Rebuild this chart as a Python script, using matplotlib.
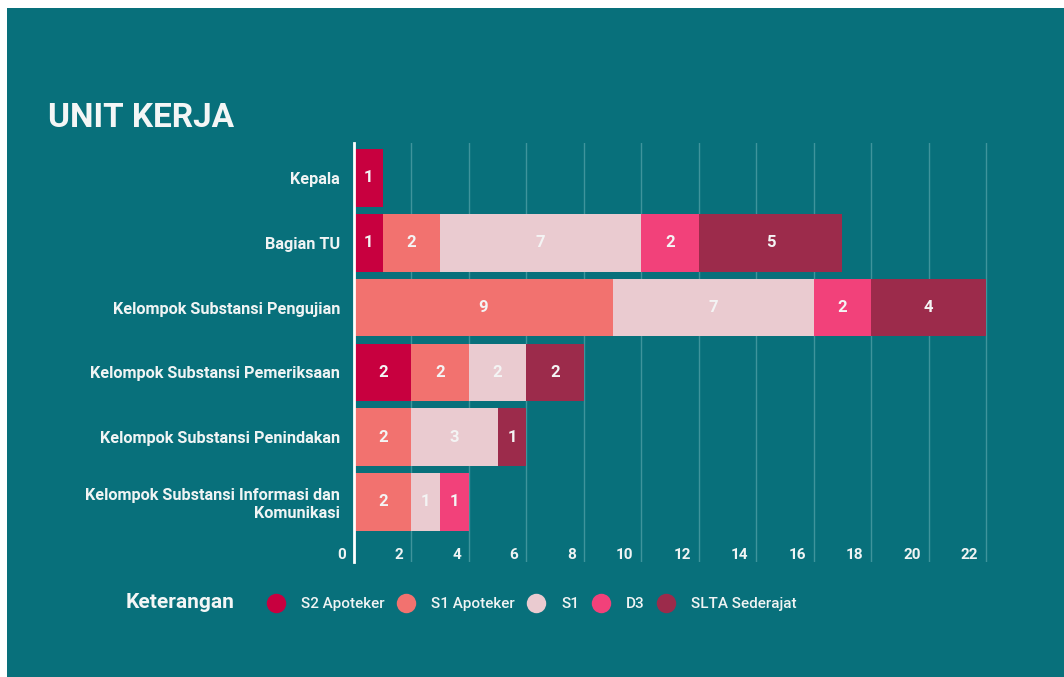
import matplotlib
matplotlib.use("Agg")
import matplotlib.pyplot as plt
import matplotlib.transforms as mtransforms
from matplotlib.patches import Rectangle
from matplotlib.lines import Line2D
import numpy as np

plt.rcParams['font.family'] = ['Roboto', 'DejaVu Sans']

categories = ["Kepala", "Bagian TU", "Kelompok Substansi Pengujian",
              "Kelompok Substansi Pemeriksaan", "Kelompok Substansi Penindakan",
              "Kelompok Substansi Informasi dan\nKomunikasi"]
series_names = ["S2 Apoteker", "S1 Apoteker", "S1", "D3", "SLTA Sederajat"]
s2_apoteker = [1, 1, 0, 2, 0, 0]
s1_apoteker = [0, 2, 9, 2, 2, 2]
s1 = [0, 7, 7, 2, 3, 1]
d3 = [0, 2, 2, 0, 0, 1]
slta = [0, 5, 4, 2, 1, 0]
series_values = [s2_apoteker, s1_apoteker, s1, d3, slta]
colors = ["#c8003f", "#f2726f", "#eacbd0", "#f2417a", "#9c2b4b"]
x_ticks = list(range(0, 23, 2))

TEAL = "#08707b"
W, H = 1064, 677
fig = plt.figure(figsize=(W / 100, H / 100), dpi=100, facecolor="white")
fig.patches.append(Rectangle((7 / W, 0), 1, 1 - 8 / H, transform=fig.transFigure,
                             facecolor=TEAL, edgecolor="none", zorder=-10))

left_px, right_px, top_px, bot_px = 354, 989, 143, 562
ax = fig.add_axes([left_px / W, 1 - bot_px / H, (right_px - left_px) / W, (bot_px - top_px) / H])
ax.set_facecolor("none")

y = np.arange(len(categories))
left = np.zeros(len(categories))
for name, vals, c in zip(series_names, series_values, colors):
    vals = np.array(vals, dtype=float)
    ax.barh(y, vals, left=left, height=0.89, color=c, edgecolor="none", zorder=3, label=name)
    for yi, (l, v) in enumerate(zip(left, vals)):
        if v > 0:
            ax.text(l + v / 2, yi, f"{int(v)}", ha="center", va="center",
                    color="#f4f4f4", fontsize=12, fontweight="bold", zorder=4)
    left += vals

ax.set_xlim(0, 22.1)
ax.set_ylim(5.926, -0.54)
ax.set_yticks(y)
ax.set_yticklabels(categories, fontsize=11.7, fontweight="bold", color="#f0f4f4")
for lab in ax.get_yticklabels():
    lab.set_multialignment("right")
ax.set_xticks(x_ticks)
ax.set_xticklabels([str(t) for t in x_ticks], fontsize=11, fontweight="bold", color="#f0f4f4")
ax.tick_params(axis="x", length=0, pad=-10)
ax.tick_params(axis="y", length=0, pad=10)
offset = mtransforms.ScaledTranslation(-8 / 100, 0, fig.dpi_scale_trans)
for lab in ax.xaxis.get_majorticklabels():
    lab.set_horizontalalignment("right")
    lab.set_transform(lab.get_transform() + offset)

ax.grid(axis="x", color="#3f949c", linewidth=1, zorder=0)
ax.grid(axis="y", visible=False)
for s in ["top", "right", "bottom"]:
    ax.spines[s].set_visible(False)
ax.spines["left"].set_color("white")
ax.spines["left"].set_linewidth(2)
ax.spines["left"].set_zorder(5)

fig.text(48 / W, 1 - 118 / H, "UNIT KERJA", fontsize=24, fontweight="bold",
         color="#f4f6f6", ha="left", va="center")

fig.text(126 / W, 1 - 602 / H, "Keterangan", fontsize=15, fontweight="bold",
         color="#f4f6f6", ha="left", va="center")
handles = [Line2D([], [], marker="o", ls="", markersize=14, color=c, markeredgewidth=0)
           for c in colors]
leg = fig.legend(handles, series_names, loc="center left",
                 bbox_to_anchor=(268 / W, 1 - 604 / H), ncol=5, frameon=False,
                 fontsize=11, handlelength=1.0, handletextpad=1.15, columnspacing=0.9,
                 borderpad=0, borderaxespad=0)
for t in leg.get_texts():
    t.set_color("#f0f4f4")
    t.set_fontweight("medium")

fig.savefig("out.png", dpi=100, facecolor=fig.get_facecolor())
